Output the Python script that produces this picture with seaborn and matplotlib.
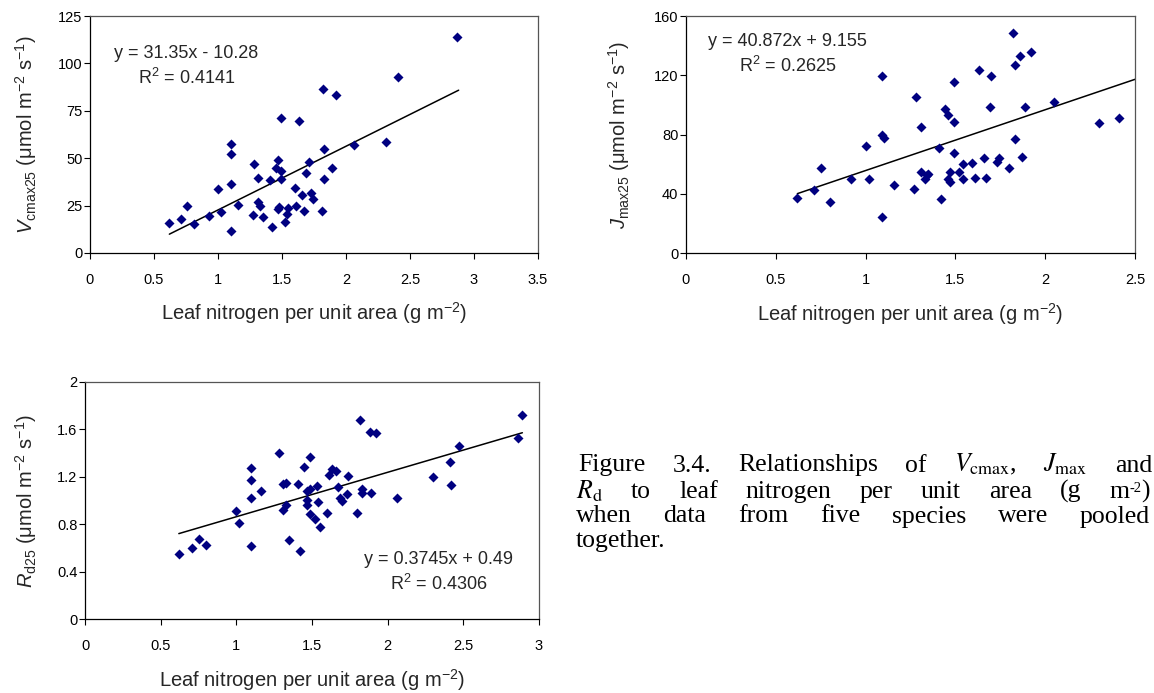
import matplotlib
matplotlib.use("Agg")
import matplotlib.pyplot as plt
from matplotlib.transforms import IdentityTransform
from matplotlib.ticker import FuncFormatter, MultipleLocator
import numpy as np
import pandas as pd
import seaborn as sns

# ---------------- data ----------------
vc_n = [0.62, 0.71, 0.755, 0.81, 0.93, 1.00, 1.02, 1.10, 1.10, 1.10, 1.10, 1.16, 1.27, 1.28,
        1.31, 1.31, 1.33, 1.35, 1.41, 1.42, 1.45, 1.47, 1.47, 1.48, 1.49, 1.49, 1.49, 1.52,
        1.54, 1.55, 1.60, 1.61, 1.63, 1.66, 1.67, 1.69, 1.71, 1.73, 1.74, 1.81, 1.82, 1.83,
        1.83, 1.89, 1.92, 2.06, 2.31, 2.41, 2.87]
vc_val = [15.7, 17.8, 25.0, 15.3, 19.4, 34.0, 21.7, 57.4, 52.3, 36.6, 11.4, 25.2, 20.1, 46.8,
          39.6, 26.9, 24.7, 18.9, 38.7, 13.7, 44.9, 48.8, 23.2, 24.5, 71.1, 43.1, 38.9, 16.5,
          20.8, 23.8, 34.2, 25.0, 69.6, 30.5, 22.2, 42.3, 48.2, 31.7, 28.5, 22.0, 86.3, 54.8,
          38.9, 44.7, 83.3, 56.9, 58.5, 92.8, 113.7]

jm_n = [0.62, 0.71, 0.75, 0.80, 0.92, 1.00, 1.02, 1.09, 1.09, 1.10, 1.09, 1.16, 1.27, 1.28,
        1.31, 1.31, 1.33, 1.34, 1.35, 1.41, 1.42, 1.44, 1.46, 1.46, 1.47, 1.47, 1.49, 1.49,
        1.49, 1.52, 1.54, 1.54, 1.59, 1.61, 1.63, 1.66, 1.67, 1.69, 1.70, 1.73, 1.74, 1.80,
        1.82, 1.83, 1.83, 1.86, 1.87, 1.89, 1.92, 2.05, 2.30, 2.41]
jm_val = [37.3, 42.5, 57.7, 34.4, 50.1, 72.6, 49.9, 119.8, 79.6, 78.0, 24.5, 46.3, 43.4, 105.6,
          85.0, 55.0, 49.9, 52.8, 53.2, 71.2, 36.6, 97.3, 93.5, 50.4, 54.6, 48.3, 115.7, 88.5,
          67.8, 54.6, 49.9, 60.0, 60.9, 50.6, 123.4, 64.5, 50.6, 98.9, 119.3, 61.6, 64.3, 57.3,
          148.3, 126.8, 76.9, 133.3, 64.7, 98.4, 135.5, 102.2, 87.7, 91.0]

rd_n = [0.62, 0.71, 0.75, 0.80, 1.00, 1.02, 1.095, 1.10, 1.10, 1.095, 1.16, 1.28, 1.31, 1.33,
        1.31, 1.33, 1.35, 1.41, 1.42, 1.45, 1.47, 1.465, 1.47, 1.49, 1.49, 1.49, 1.52, 1.53,
        1.54, 1.55, 1.60, 1.61, 1.63, 1.66, 1.67, 1.685, 1.70, 1.73, 1.74, 1.80, 1.82, 1.83,
        1.83, 1.88, 1.89, 1.92, 2.06, 2.30, 2.41, 2.42, 2.47, 2.86, 2.89]
rd_val = [0.548, 0.605, 0.678, 0.630, 0.914, 0.815, 1.271, 1.176, 1.021, 0.619, 1.083, 1.403,
          1.144, 1.147, 0.925, 0.965, 0.667, 1.139, 0.579, 1.285, 1.085, 1.004, 0.962, 1.102,
          1.372, 0.886, 0.849, 1.125, 0.987, 0.781, 0.900, 1.220, 1.268, 1.254, 1.116, 1.024,
          1.001, 1.060, 1.209, 0.900, 1.676, 1.094, 1.066, 1.581, 1.066, 1.572, 1.021, 1.203,
          1.325, 1.136, 1.457, 1.527, 1.724]

# trend lines as drawn (slope, intercept, x-range)
vc_fit = [33.6, -10.9]
vc_fit_x = [0.62, 2.88]
jm_fit = [41.0, 14.8]
jm_fit_x = [0.62, 2.5]
rd_fit = [0.3745, 0.49]
rd_fit_x = [0.62, 2.89]

vc_eq = ["y = 31.35x - 10.28", "R$^2$ = 0.4141"]
jm_eq = ["y = 40.872x + 9.155", "R$^2$ = 0.2625"]
rd_eq = ["y = 0.3745x + 0.49", "R$^2$ = 0.4306"]

x_label = "Leaf nitrogen per unit area (g m$^{-2}$)"
vc_ylabel = r"$V_{\mathrm{cmax25}}$ (μmol m$^{-2}$ s$^{-1}$)"
jm_ylabel = r"$J_{\mathrm{max25}}$ (μmol m$^{-2}$ s$^{-1}$)"
rd_ylabel = r"$R_{\mathrm{d25}}$ (μmol m$^{-2}$ s$^{-1}$)"

# caption words; a word may be a list of (text, superscript?) parts
caption_lines = [
    ["Figure", "3.4.", "Relationships", "of", r"$V_{\mathrm{cmax}}$,", r"$J_{\mathrm{max}}$", "and"],
    [r"$R_{\mathrm{d}}$", "to", "leaf", "nitrogen", "per", "unit", "area", "(g",
     [("m", False), ("-2", True), (")", False)]],
    ["when", "data", "from", "five", "species", "were", "pooled"],
    ["together."],
]

# ---------------- style ----------------
sns.set_style("ticks")
plt.rcParams["font.family"] = ["Liberation Sans", "DejaVu Sans"]
plt.rcParams["mathtext.fontset"] = "custom"
plt.rcParams["mathtext.rm"] = "Liberation Sans"
plt.rcParams["mathtext.it"] = "Liberation Sans:italic"
plt.rcParams["mathtext.bf"] = "Liberation Sans:bold"

W, H = 1154, 693
fig = plt.figure(figsize=(W / 100, H / 100), dpi=100)
fig.patch.set_facecolor("white")

MARK = "#000080"


def px_axes(left, top, right, bottom):
    return fig.add_axes([left / W, (H - bottom) / H, (right - left) / W, (bottom - top) / H])


fmt = FuncFormatter(lambda v, p: f"{v:g}")


def panel(ax, xs, ys, fit, fit_x, xmax, ymax, ystep, ylabel, eq, eq_pos, ylab_x):
    df = pd.DataFrame({"N": xs, "Y": ys})
    sns.scatterplot(data=df, x="N", y="Y", ax=ax, marker="D", color=MARK, s=26,
                    linewidth=0, zorder=3)
    fx = np.array(fit_x)
    sns.lineplot(x=fx, y=fit[0] * fx + fit[1], ax=ax, color="black", lw=1.1, zorder=2)
    ax.set_xlim(0, xmax)
    ax.set_ylim(0, ymax)
    ax.xaxis.set_major_locator(MultipleLocator(0.5))
    ax.yaxis.set_major_locator(MultipleLocator(ystep))
    ax.xaxis.set_major_formatter(fmt)
    ax.yaxis.set_major_formatter(fmt)
    ax.tick_params(axis="both", direction="out", length=4, width=0.8, color="black",
                   labelsize=10.5, labelcolor="black")
    ax.tick_params(axis="x", pad=10.5)
    ax.tick_params(axis="y", pad=1.5)
    for s in ["left", "bottom"]:
        ax.spines[s].set_color("black")
        ax.spines[s].set_linewidth(0.9)
    for s in ["top", "right"]:
        ax.spines[s].set_visible(True)
        ax.spines[s].set_color("#555555")
        ax.spines[s].set_linewidth(0.9)
    ax.set_xlabel(x_label, fontsize=14.5)
    ax.set_ylabel(ylabel, fontsize=14.5)
    ax.xaxis.set_label_coords(0.5, -0.20)
    ax.yaxis.set_label_coords(ylab_x, 0.5)
    ax.text(eq_pos[0], eq_pos[1], eq[0], transform=ax.transAxes, ha="center",
            va="baseline", fontsize=13)
    ax.text(eq_pos[0], eq_pos[2], eq[1], transform=ax.transAxes, ha="center",
            va="baseline", fontsize=13)
    ax.set_facecolor("white")


ax1 = px_axes(90, 16, 538, 253)
panel(ax1, vc_n, vc_val, vc_fit, vc_fit_x, 3.5, 125, 25, vc_ylabel, vc_eq,
      (0.2156, 0.8215, 0.713), -0.114)

ax2 = px_axes(686, 16, 1135, 253.3)
panel(ax2, jm_n, jm_val, jm_fit, jm_fit_x, 2.5, 160, 40, jm_ylabel, jm_eq,
      (0.2263, 0.8736, 0.765), -0.120)

ax3 = px_axes(85, 382, 539, 619.3)
panel(ax3, rd_n, rd_val, rd_fit, rd_fit_x, 3, 2, 0.4, rd_ylabel, rd_eq,
      (0.779, 0.2318, 0.1235), -0.101)

# ---------------- caption (justified) ----------------
renderer = fig.canvas.get_renderer()
cap_left, cap_right = 576, 1150
baselines = [471.5, 498, 522.5, 547]
CAP_SIZE = 18.5
SUP_SIZE = 10.5
SUP_RAISE = 6
cap_kw = dict(family="Liberation Serif", math_fontfamily="stix",
              va="baseline", ha="left", color="black", transform=IdentityTransform())

for i, words in enumerate(caption_lines):
    y = H - baselines[i]
    groups = []  # per word: list of (text_obj, width, dy)
    for w in words:
        parts = w if isinstance(w, list) else [(w, False)]
        g = []
        for txt, sup in parts:
            t = fig.text(0, y + (SUP_RAISE if sup else 0), txt,
                         fontsize=SUP_SIZE if sup else CAP_SIZE, **cap_kw)
            g.append((t, t.get_window_extent(renderer).width))
        groups.append(g)
    word_w = [sum(wd for _, wd in g) for g in groups]
    gap = (cap_right - cap_left - sum(word_w)) / (len(words) - 1) if len(words) > 1 else 0
    x = cap_left + (2 if i == 0 else 0)
    for g, ww in zip(groups, word_w):
        xx = x
        for t, wd in g:
            t.set_x(xx)
            xx += wd
        x += ww + gap

fig.savefig("out.png", dpi=100, facecolor="white")
